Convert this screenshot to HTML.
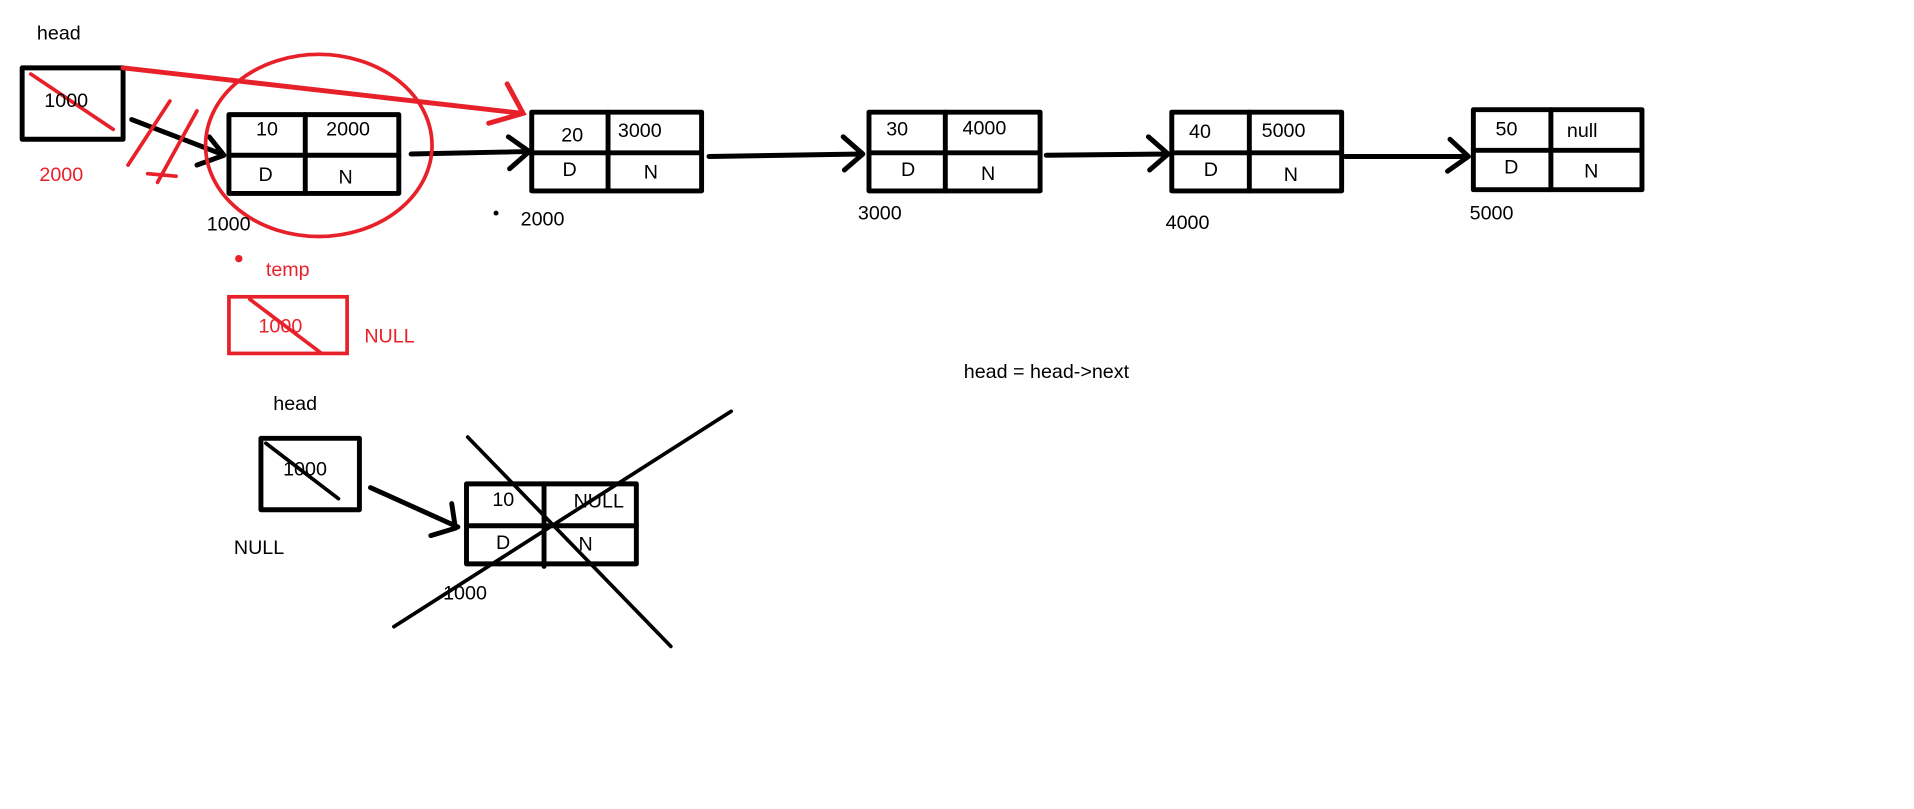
<!DOCTYPE html>
<html><head><meta charset="utf-8"><style>
html,body{margin:0;padding:0;background:#fff;}
svg{display:block;}
text{font-family:"Liberation Sans","DejaVu Sans",sans-serif;font-size:16px;}
.k{fill:#000}.r{fill:#e8202a}
</style></head><body>
<svg width="1914" height="809" viewBox="0 0 1555 657" xmlns="http://www.w3.org/2000/svg">
<g fill="none" stroke="#000" stroke-width="4" stroke-linecap="round" stroke-linejoin="round">
<!-- head box -->
<rect x="18" y="55" width="82" height="58"/>
<!-- arrow head->node1 -->
<path d="M107 97 L180 125 M170 111 L182 126 L160 134"/>
<!-- node1 -->
<rect x="186" y="93" width="138" height="64"/><line x1="248" y1="93" x2="248" y2="157"/><line x1="186" y1="126" x2="324" y2="126"/>
<path d="M334 125 L428 123 M413 111 L430 123 L414 137"/>
<!-- node2 -->
<rect x="432" y="91" width="138" height="64"/><line x1="494" y1="91" x2="494" y2="155"/><line x1="432" y1="124" x2="570" y2="124"/>
<path d="M576 127 L700 125 M685 111 L701 125 L686 138"/>
<!-- node3 -->
<rect x="706" y="91" width="139" height="64"/><line x1="768" y1="91" x2="768" y2="155"/><line x1="706" y1="124" x2="845" y2="124"/>
<path d="M850 126 L948 125 M933 111 L949 125 L934 138"/>
<!-- node4 -->
<rect x="952" y="91" width="138" height="64"/><line x1="1015" y1="91" x2="1015" y2="155"/><line x1="952" y1="124" x2="1090" y2="124"/>
<path d="M1093 127 L1192 127 M1178 113 L1193 127 L1176 139"/>
<!-- node5 -->
<rect x="1197" y="89" width="137" height="65"/><line x1="1260" y1="89" x2="1260" y2="154"/><line x1="1197" y1="122" x2="1334" y2="122"/>
<!-- lower head box -->
<rect x="212" y="356" width="80" height="58"/>
<line x1="216" y1="360" x2="275" y2="405" stroke-width="3"/>
<path d="M301 396 L372 428 M367 409 L370 429 L350 435"/>
<!-- node6 -->
<rect x="379" y="393" width="138" height="65"/><line x1="442" y1="393" x2="442" y2="460"/><line x1="379" y1="427" x2="517" y2="427"/>
<line x1="380" y1="355" x2="545" y2="525" stroke-width="3"/>
<line x1="320" y1="509" x2="594" y2="334" stroke-width="3"/>
</g>
<g fill="none" stroke="#e8202a" stroke-width="3" stroke-linecap="round">
<line x1="25" y1="60" x2="92" y2="105"/>
<line x1="138" y1="82" x2="104" y2="134"/>
<line x1="160" y1="90" x2="128" y2="148"/>
<line x1="120" y1="141" x2="143" y2="143"/>
<ellipse cx="259" cy="118" rx="92" ry="74"/>
<path d="M100 55 L425 92 M412 68 L425 92 L397 100" stroke-width="4"/>
<rect x="186" y="241" width="96" height="46"/>
<line x1="203" y1="243" x2="260" y2="286"/>
<circle cx="194" cy="210" r="1.5" fill="#e8202a"/>
</g>
<circle cx="403" cy="173" r="2" fill="#000"/>
<text class="k" x="30" y="32">head</text>
<text class="k" x="36" y="87">1000</text>
<text class="r" x="32" y="147">2000</text>
<text class="k" x="208" y="110">10</text><text class="k" x="265" y="110">2000</text>
<text class="k" x="210" y="147">D</text><text class="k" x="275" y="149">N</text>
<text class="k" x="168" y="187">1000</text>
<text class="k" x="456" y="115">20</text><text class="k" x="502" y="111">3000</text>
<text class="k" x="457" y="143">D</text><text class="k" x="523" y="145">N</text>
<text class="k" x="423" y="183">2000</text>
<text class="k" x="720" y="110">30</text><text class="k" x="782" y="109">4000</text>
<text class="k" x="732" y="143">D</text><text class="k" x="797" y="146">N</text>
<text class="k" x="697" y="178">3000</text>
<text class="k" x="966" y="112">40</text><text class="k" x="1025" y="111">5000</text>
<text class="k" x="978" y="143">D</text><text class="k" x="1043" y="147">N</text>
<text class="k" x="947" y="186">4000</text>
<text class="k" x="1215" y="110">50</text><text class="k" x="1273" y="111">null</text>
<text class="k" x="1222" y="141">D</text><text class="k" x="1287" y="144">N</text>
<text class="k" x="1194" y="178">5000</text>
<text class="r" x="216" y="224">temp</text>
<text class="r" x="210" y="270">1000</text>
<text class="r" x="296" y="278">NULL</text>
<text class="k" x="783" y="307">head = head-&gt;next</text>
<text class="k" x="222" y="333">head</text>
<text class="k" x="230" y="386">1000</text>
<text class="k" x="190" y="450">NULL</text>
<text class="k" x="400" y="411">10</text><text class="k" x="466" y="412">NULL</text>
<text class="k" x="403" y="446">D</text><text class="k" x="470" y="447">N</text>
<text class="k" x="360" y="487">1000</text>
</svg>
</body></html>
